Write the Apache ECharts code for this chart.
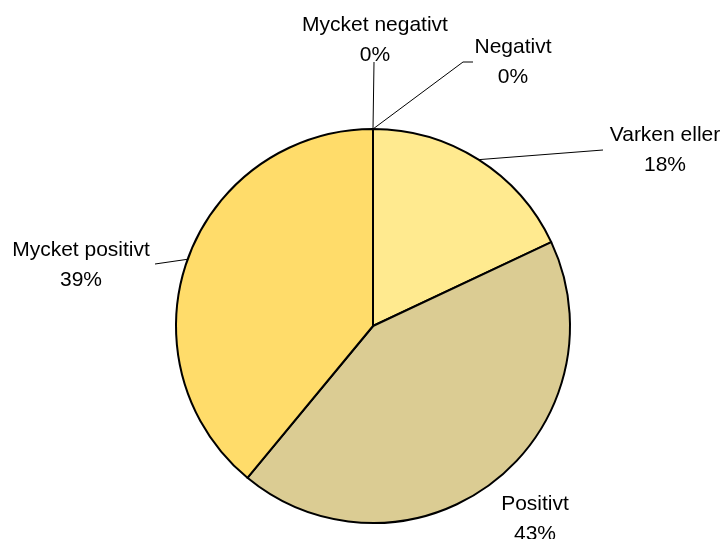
<!doctype html>
<html>
<head>
<meta charset="utf-8">
<title>pie</title>
<script src="https://cdn.jsdelivr.net/npm/echarts@6/dist/echarts.min.js"></script>
<style>
  html, body { margin: 0; padding: 0; background: #fff; }
  #div_charts { width: 726px; height: 539px; }
</style>
</head>
<body>
<div id="div_charts"></div>
<script>
// data
var categories = ['Mycket negativt', 'Negativt', 'Varken eller', 'Positivt', 'Mycket positivt'];
var values = [0, 0, 18, 43, 39];
var colors = ['#FFDC6A', '#FFEA8F', '#FFEA8F', '#DBCC93', '#FFDC6A'];

// label placement (centre of each two-line label) and leader line ends
var labelPos = [[375, 40], [513, 62], [665, 150], [535, 519], [81, 265]];
var lineEnds = [[[374, 62]], [[463, 62], [473, 62]], [[603, 150]], null, [[155, 264]]];

var myChart = echarts.init(document.getElementById('div_charts'));

var pieData = [];
for (var i = 0; i < categories.length; i++) {
  pieData.push({ name: categories[i], value: values[i], itemStyle: { color: colors[i] } });
}

var option = {
  backgroundColor: '#fff',
  animation: false,
  series: [{
    type: 'pie',
    center: [373, 326],
    radius: [0, 197],
    startAngle: 90,
    clockwise: true,
    avoidLabelOverlap: false,
    data: pieData,
    itemStyle: { borderColor: '#000', borderWidth: 2 },
    label: {
      show: true,
      position: 'outside',
      formatter: '{b}\n{d}%',
      fontFamily: 'Liberation Sans, Arial, sans-serif',
      fontSize: 21,
      lineHeight: 30,
      color: '#000',
      align: 'center'
    },
    labelLine: {
      show: true,
      length: 10,
      length2: 10,
      lineStyle: { color: '#000', width: 1 }
    },
    labelLayout: function (params) {
      var idx = params.dataIndex;
      var p = labelPos[idx];
      var res = { x: p[0], y: p[1], align: 'center', verticalAlign: 'middle' };
      var start = params.labelLinePoints ? params.labelLinePoints[0] : null;
      if (lineEnds[idx] && start) {
        res.labelLinePoints = [start].concat(lineEnds[idx]);
      } else {
        res.labelLinePoints = [[0, 0], [0, 0]];
      }
      return res;
    },
    emphasis: { disabled: true }
  }]
};

myChart.setOption(option);
</script>
</body>
</html>
